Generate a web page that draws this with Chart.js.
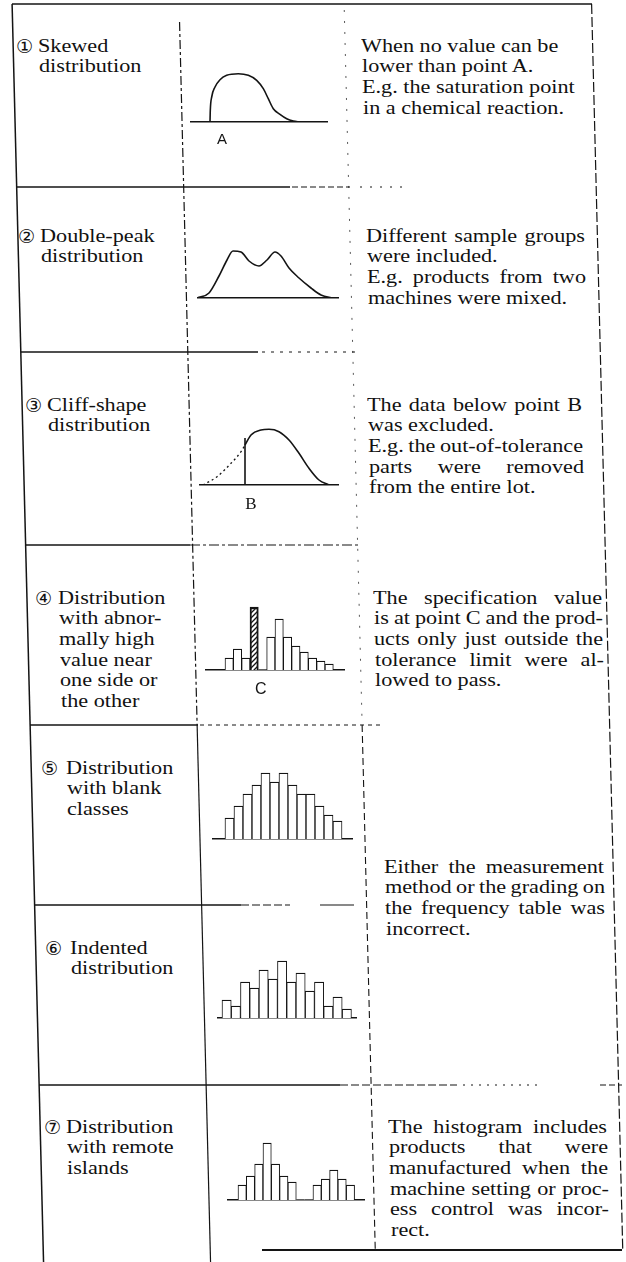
<!DOCTYPE html>
<html>
<head>
<meta charset="utf-8">
<script src="https://cdn.jsdelivr.net/npm/chart.js@4.4.1/dist/chart.umd.min.js"></script>
<style>
  html, body { margin: 0; padding: 0; background: #fff; }
  #sheet { position: relative; width: 626px; height: 1262px; overflow: hidden; background: #fff; }
  #rules { position: absolute; left: 0; top: 0; }
  .txt {
    position: absolute; white-space: nowrap; color: #111;
    font-family: "Liberation Serif", "Times New Roman", serif;
    font-size: 18.5px; line-height: 20.7px;
    transform-origin: 0 50%; transform: scaleX(1.2);
  }
  .num {
    position: absolute; white-space: nowrap; color: #111;
    font-family: "DejaVu Sans", sans-serif; font-size: 19px; line-height: 20.7px;
  }
  canvas.mini { position: absolute; }
</style>
</head>
<body>
<div id="sheet">
  <svg id="rules" width="626" height="1262"></svg>
</div>
<script>
// ---------- curve shapes: x in class units, y in relative frequency ----------
const skewedX = [2.0, 2.03, 2.17, 2.5, 3.0, 3.67, 4.83, 5.83, 6.67, 7.33, 7.83, 8.33, 9.0, 9.67, 10.33, 11.0];
const skewedY = [0, 1.17, 2.5, 3.5, 4.23, 4.67, 4.83, 4.67, 4.17, 3.33, 2.33, 1.33, 0.77, 0.33, 0.1, 0];
const pointA = 3.2;

const doublePeakX = [0, 1.2, 2.2, 3.0, 3.6, 4.4, 5.2, 6.2, 7.0, 7.8, 8.4, 9.2, 10.2, 11.4, 12.4, 13.6];
const doublePeakY = [0, 0.5, 2.2, 3.8, 4.7, 4.6, 3.7, 3.2, 3.8, 4.6, 4.2, 3.0, 2.0, 1.0, 0.3, 0];

// part of the cliff-shape distribution that was cut away (dotted)
const cliffCutX = [0.4, 1.8, 3.2, 4.2, 4.6];
const cliffCutY = [0, 0.83, 2.17, 3.33, 4.0];
const cliffX = [4.6, 5.2, 6.2, 7.0, 8.0, 9.0, 10.0, 11.0, 12.0, 13.0];
const cliffY = [4.0, 5.0, 5.5, 5.57, 5.33, 4.5, 3.17, 1.67, 0.5, 0];
const cliffEdge = [4.6, 4.7];   // x of the cut, height of the cut line
const pointB = 5.2;

// ---------- histogram class counts ----------
const edgeCounts = [4, 7, 4, 21, 0, 11, 17, 11, 8, 6, 4, 3, 2];
const edgeClassC = 3;
const pointC = 4.8;
const blankCounts = [7, 11, 15, 18, 22, 19, 22, 18, 15, 15, 11, 8, 6];
const indentedCounts = [6, 4, 12, 10, 16, 13, 19, 12, 15, 9, 12, 4, 7, 3];
const islandCounts = [5, 8, 12, 19, 12, 8, 6, 0, 0, 5, 7, 10, 7, 5];

// ---------- table text ----------
const circled = ['①', '②', '③', '④', '⑤', '⑥', '⑦'];
const typeNames = [
  ['Skewed', 'distribution'],
  ['Double-peak', 'distribution'],
  ['Cliff-shape', 'distribution'],
  ['Distribution', 'with abnor-', 'mally high', 'value near', 'one side or', 'the other'],
  ['Distribution', 'with blank', 'classes'],
  ['Indented', 'distribution'],
  ['Distribution', 'with remote', 'islands']
];
const causes = [
  ['When no value can be', 'lower than point A.', 'E.g. the saturation point', 'in a chemical reaction.'],
  ['Different sample groups', 'were included.', 'E.g. products from two', 'machines were mixed.'],
  ['The data below point B', 'was excluded.', 'E.g. the out-of-tolerance', 'parts were removed', 'from the entire lot.'],
  ['The specification value', 'is at point C and the prod-', 'ucts only just outside the', 'tolerance limit were al-', 'lowed to pass.'],
  ['Either the measurement', 'method or the grading on', 'the frequency table was', 'incorrect.'],
  ['The histogram includes', 'products that were', 'manufactured when the', 'machine setting or proc-', 'ess control was incor-', 'rect.']
];

// ---------- layout ----------
const LH = 20.7, SX = 1.2, INK = '#141414';
const nameY = [46, 236, 405, 598, 768, 948, 1127];
const numX = [16, 18, 25, 35, 41, 45, 44];
const nameX = [38, 40, 47, 58, 66, 70, 66];
const causeX = [361, 366, 367, 373, 384, 388];
const causeY = [46, 236, 405, 598, 867, 1127];
const causeW = [0, 219, 215, 229, 220, 219];
const causeJustify = [[], [0, 2], [0, 2, 3], [0, 1, 2, 3], [0, 1, 2], [0, 1, 2, 3, 4]];

const sheet = document.getElementById('sheet');
const svg = document.getElementById('rules');
const NS = 'http://www.w3.org/2000/svg';
const slant = 0.025;   // the printed table leans slightly to the right

function rule(x1, y1, x2, y2, dash, w, op) {
  const l = document.createElementNS(NS, 'line');
  l.setAttribute('x1', x1); l.setAttribute('y1', y1);
  l.setAttribute('x2', x2); l.setAttribute('y2', y2);
  l.setAttribute('stroke', INK);
  l.setAttribute('stroke-width', w || 1.4);
  if (dash) l.setAttribute('stroke-dasharray', dash);
  if (op) l.setAttribute('opacity', op);
  svg.appendChild(l);
}
function vrule(x0, y1, y2, dash, w, op) {
  rule(x0 + slant * y1, y1, x0 + slant * y2, y2, dash, w, op);
}

// outer frame and column rules
rule(12, 4, 592, 4, null, 1.5);
vrule(12, 4, 1262, null, 1.5);
vrule(179, 22, 725, '9 3 3 3', 1.2);
vrule(179, 725, 1262, null, 1.2);
vrule(344, 10, 725, '2 9', 1, 0.7);
vrule(344, 725, 1250, '7 4', 1.1);
vrule(591.5, 4, 1250, '10 3', 1.2);

// row separators
rule(17, 187, 290, 187, null, 1.4); rule(292, 187, 350, 187, '6 3', 1.2); rule(360, 187, 410, 187, '2 8', 1);
rule(21, 352, 258, 352, null, 1.4); rule(262, 352, 355, 352, '3 6', 1);
rule(26, 545, 190, 545, null, 1.4); rule(190, 545, 358, 545, '10 3 3 3', 1.2);
rule(30, 725, 198, 725, null, 1.4); rule(200, 725, 380, 725, '4 4', 1);
rule(34, 905, 241, 905, null, 1.4); rule(241, 905, 290, 905, '8 3', 1.2); rule(320, 905, 354, 905, null, 1.2);
rule(39, 1085, 340, 1085, null, 1.4); rule(340, 1085, 455, 1085, '8 3', 1.2); rule(455, 1085, 540, 1085, '2 6', 1); rule(600, 1085, 622, 1085, '6 3', 1.2);
rule(262, 1250, 622, 1250, null, 1.8);

function textLine(str, x, yc, width) {
  const d = document.createElement('div');
  d.className = 'txt';
  d.textContent = str;
  d.style.left = x + 'px';
  d.style.top = (yc - LH / 2) + 'px';
  sheet.appendChild(d);
  if (width) {
    // spread the word gaps so the line fills the column (never squeeze much)
    const gaps = (str.match(/ /g) || []).length;
    const extra = (width - d.getBoundingClientRect().width) / SX;
    if (gaps) d.style.wordSpacing = Math.max(extra / gaps, -1.2) + 'px';
  }
}

typeNames.forEach((lines, r) => {
  const n = document.createElement('div');
  n.className = 'num';
  n.textContent = circled[r];
  n.style.left = numX[r] + 'px';
  n.style.top = (nameY[r] - LH / 2) + 'px';
  sheet.appendChild(n);
  lines.forEach((s, i) => textLine(s, nameX[r] + slant * i * LH, nameY[r] + i * LH));
});

causes.forEach((lines, r) => {
  lines.forEach((s, i) => {
    const w = causeJustify[r].includes(i) ? causeW[r] : 0;
    textLine(s, causeX[r] + slant * i * LH, causeY[r] + i * LH, w);
  });
});

// ---------- the small Chart.js drawings ----------
// writes the point letter (A, B, C) under the baseline at a value of the x scale
const letterMark = {
  id: 'letterMark',
  afterDraw(chart, args, opts) {
    if (!opts.text) return;
    const { ctx, chartArea, scales: { x } } = chart;
    ctx.save();
    ctx.font = opts.font;
    ctx.fillStyle = INK;
    ctx.textAlign = 'center';
    ctx.textBaseline = 'middle';
    ctx.fillText(opts.text, x.getPixelForValue(opts.at), chartArea.bottom + opts.dy);
    ctx.restore();
  }
};

function mini(box, type, datasets, xMin, xMax, yMax, letter) {
  const cv = document.createElement('canvas');
  cv.className = 'mini';
  const below = letter ? 32 : 2;
  cv.width = box.width;
  cv.height = box.plotH + below;
  cv.style.left = box.left + 'px';
  cv.style.top = (box.base - box.plotH) + 'px';
  sheet.appendChild(cv);
  return new Chart(cv, {
    type,
    data: { datasets },
    plugins: [letterMark],
    options: {
      responsive: false, maintainAspectRatio: false, animation: false, events: [],
      layout: { padding: { left: 0, right: 0, top: 0, bottom: below } },
      plugins: {
        legend: { display: false }, tooltip: { enabled: false },
        letterMark: letter || {}
      },
      scales: {
        x: {
          type: 'linear', min: xMin, max: xMax, offset: false,
          grid: { display: false, drawTicks: false },
          border: { display: true, color: INK, width: 1.6 },
          ticks: { display: false }
        },
        y: { display: false, min: 0, max: yMax }
      }
    }
  });
}

const pts = (xs, ys) => xs.map((x, i) => ({ x, y: ys[i] }));
const curve = (data, extra) => Object.assign({
  data, showLine: true, borderColor: INK, borderWidth: 1.6,
  pointRadius: 0, cubicInterpolationMode: 'monotone', fill: false
}, extra || {});
const classes = counts => counts.map((y, i) => ({ x: i + 1, y }));
const plainBorder = ctx => (ctx.raw && ctx.raw.y ? { left: 1, right: 1, top: 1.4, bottom: 0 } : 0);
const bars = (counts, extra) => Object.assign({
  data: classes(counts),
  backgroundColor: '#fff', borderColor: INK,
  borderWidth: plainBorder,
  borderSkipped: 'bottom',
  barPercentage: 1, categoryPercentage: 1
}, extra || {});

function hatch() {
  const c = document.createElement('canvas');
  c.width = c.height = 5;
  const g = c.getContext('2d');
  g.fillStyle = '#fff'; g.fillRect(0, 0, 5, 5);
  g.strokeStyle = INK; g.lineWidth = 1.3;
  g.beginPath();
  g.moveTo(0, 5); g.lineTo(5, 0);
  g.moveTo(-1, 1); g.lineTo(1, -1);
  g.moveTo(4, 6); g.lineTo(6, 4);
  g.stroke();
  return g.createPattern(c, 'repeat');
}

// 1 skewed
mini({ left: 190, base: 122, width: 138, plotH: 55 }, 'scatter',
  [curve(pts(skewedX, skewedY))], 0, 13.8, 5.5,
  { at: pointA, text: 'A', dy: 18, font: '15px "Liberation Sans"' });

// 2 double peak
mini({ left: 197, base: 298, width: 142, plotH: 55 }, 'scatter',
  [curve(pts(doublePeakX, doublePeakY))], 0, 14.2, 5.5);

// 3 cliff shape
mini({ left: 199, base: 485, width: 140, plotH: 60 }, 'scatter', [
  curve(pts(cliffCutX, cliffCutY), { borderDash: [2, 3], borderWidth: 1.3 }),
  curve([{ x: cliffEdge[0], y: 0 }, { x: cliffEdge[0], y: cliffEdge[1] }], { cubicInterpolationMode: 'default', tension: 0 }),
  curve(pts(cliffX, cliffY))
], 0, 14.0, 6,
  { at: pointB, text: 'B', dy: 20, font: '17px "Liberation Serif"' });

// 4 abnormally high class at C
const pattern = hatch();
mini({ left: 205, base: 670, width: 140, plotH: 66 }, 'bar', [
  bars(edgeCounts, {
    backgroundColor: ctx => (ctx.dataIndex === edgeClassC ? pattern : '#fff'),
    borderWidth: ctx => (ctx.dataIndex === edgeClassC ? { left: 2, right: 2, top: 2.5, bottom: 0 } : plainBorder(ctx))
  })
], -1.9, 14.9, 22,
  { at: pointC, text: 'C', dy: 20, font: '16px "Liberation Sans"' });

// 5 blank classes
mini({ left: 212, base: 839, width: 141, plotH: 69 }, 'bar', [bars(blankCounts)], -0.94, 14.72, 23);

// 6 indented
mini({ left: 217, base: 1018, width: 140, plotH: 60 }, 'bar', [bars(indentedCounts)], -0.04, 15.1, 20);

// 7 remote islands
mini({ left: 227, base: 1200, width: 138, plotH: 60 }, 'bar', [bars(islandCounts)], -0.82, 15.75, 20);
</script>
</body>
</html>
